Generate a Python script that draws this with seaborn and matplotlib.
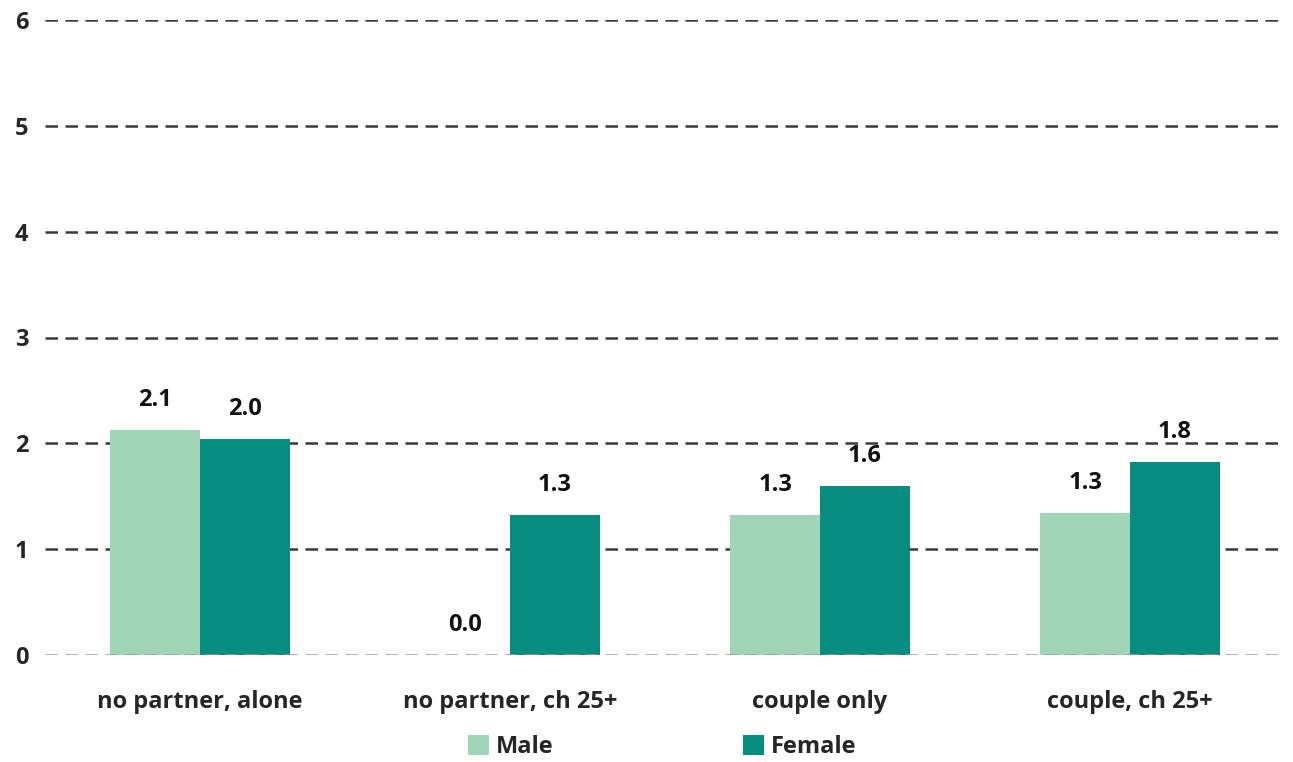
import matplotlib
matplotlib.use("Agg")
import matplotlib.pyplot as plt
import seaborn as sns
import pandas as pd

categories = ["no partner, alone", "no partner, ch 25+", "couple only", "couple, ch 25+"]
male = [2.13, 0.0, 1.32, 1.34]
female = [2.04, 1.32, 1.60, 1.82]
series = ["Male", "Female"]
colors = ["#A0D5B8", "#068D7F"]
y_ticks = [0, 1, 2, 3, 4, 5, 6]

df = pd.DataFrame({
    "category": categories * 2,
    "value": male + female,
    "series": ["Male"] * len(categories) + ["Female"] * len(categories),
})

sns.set_theme(style="white")
plt.rcParams["font.family"] = ["Open Sans", "DejaVu Sans"]
plt.rcParams["font.weight"] = "bold"

FS = 17

fig = plt.figure(figsize=(12.93, 7.62), dpi=100)
ax = fig.add_axes([45 / 1293, 1 - 655 / 762, 1240 / 1293, 635 / 762])

sns.barplot(data=df, x="category", y="value", hue="series", order=categories,
            hue_order=series, palette=colors, width=0.58, gap=0,
            saturation=1, ax=ax, errorbar=None, zorder=3, linewidth=0)

ax.set_xlim(-0.5, len(categories) - 0.5)
ax.set_ylim(0, 6)
ax.set_yticks(y_ticks)
for t in y_ticks:
    if t == 0:
        ax.axhline(t, color="#9a9a9a", lw=1.8, ls=(0, (5, 3)), zorder=4)
    else:
        ax.axhline(t, color="#3a3a3a", lw=1.8, ls=(0, (5, 3)), zorder=1)

for side in ["top", "right", "left", "bottom"]:
    ax.spines[side].set_visible(False)
ax.tick_params(axis="y", length=0, pad=12, labelsize=FS)
ax.tick_params(axis="x", length=0, pad=25, labelsize=FS)
for lab in ax.get_xticklabels() + ax.get_yticklabels():
    lab.set_fontweight("bold")
ax.set_xlabel("")
ax.set_ylabel("")

for cont in ax.containers:
    ax.bar_label(cont, fmt="%.1f", padding=13, fontsize=FS, fontweight="bold",
                 color="#111111")

handles, labels = ax.get_legend_handles_labels()
ax.get_legend().remove()
fig.legend(handles, labels, loc="center", bbox_to_anchor=(662 / 1293, 1 - 747 / 762),
           ncol=2, frameon=False, handlelength=0.9, handleheight=0.9,
           handletextpad=0.3, columnspacing=8.0,
           prop={"weight": "bold", "size": FS})

fig.savefig("out.png", dpi=100)
